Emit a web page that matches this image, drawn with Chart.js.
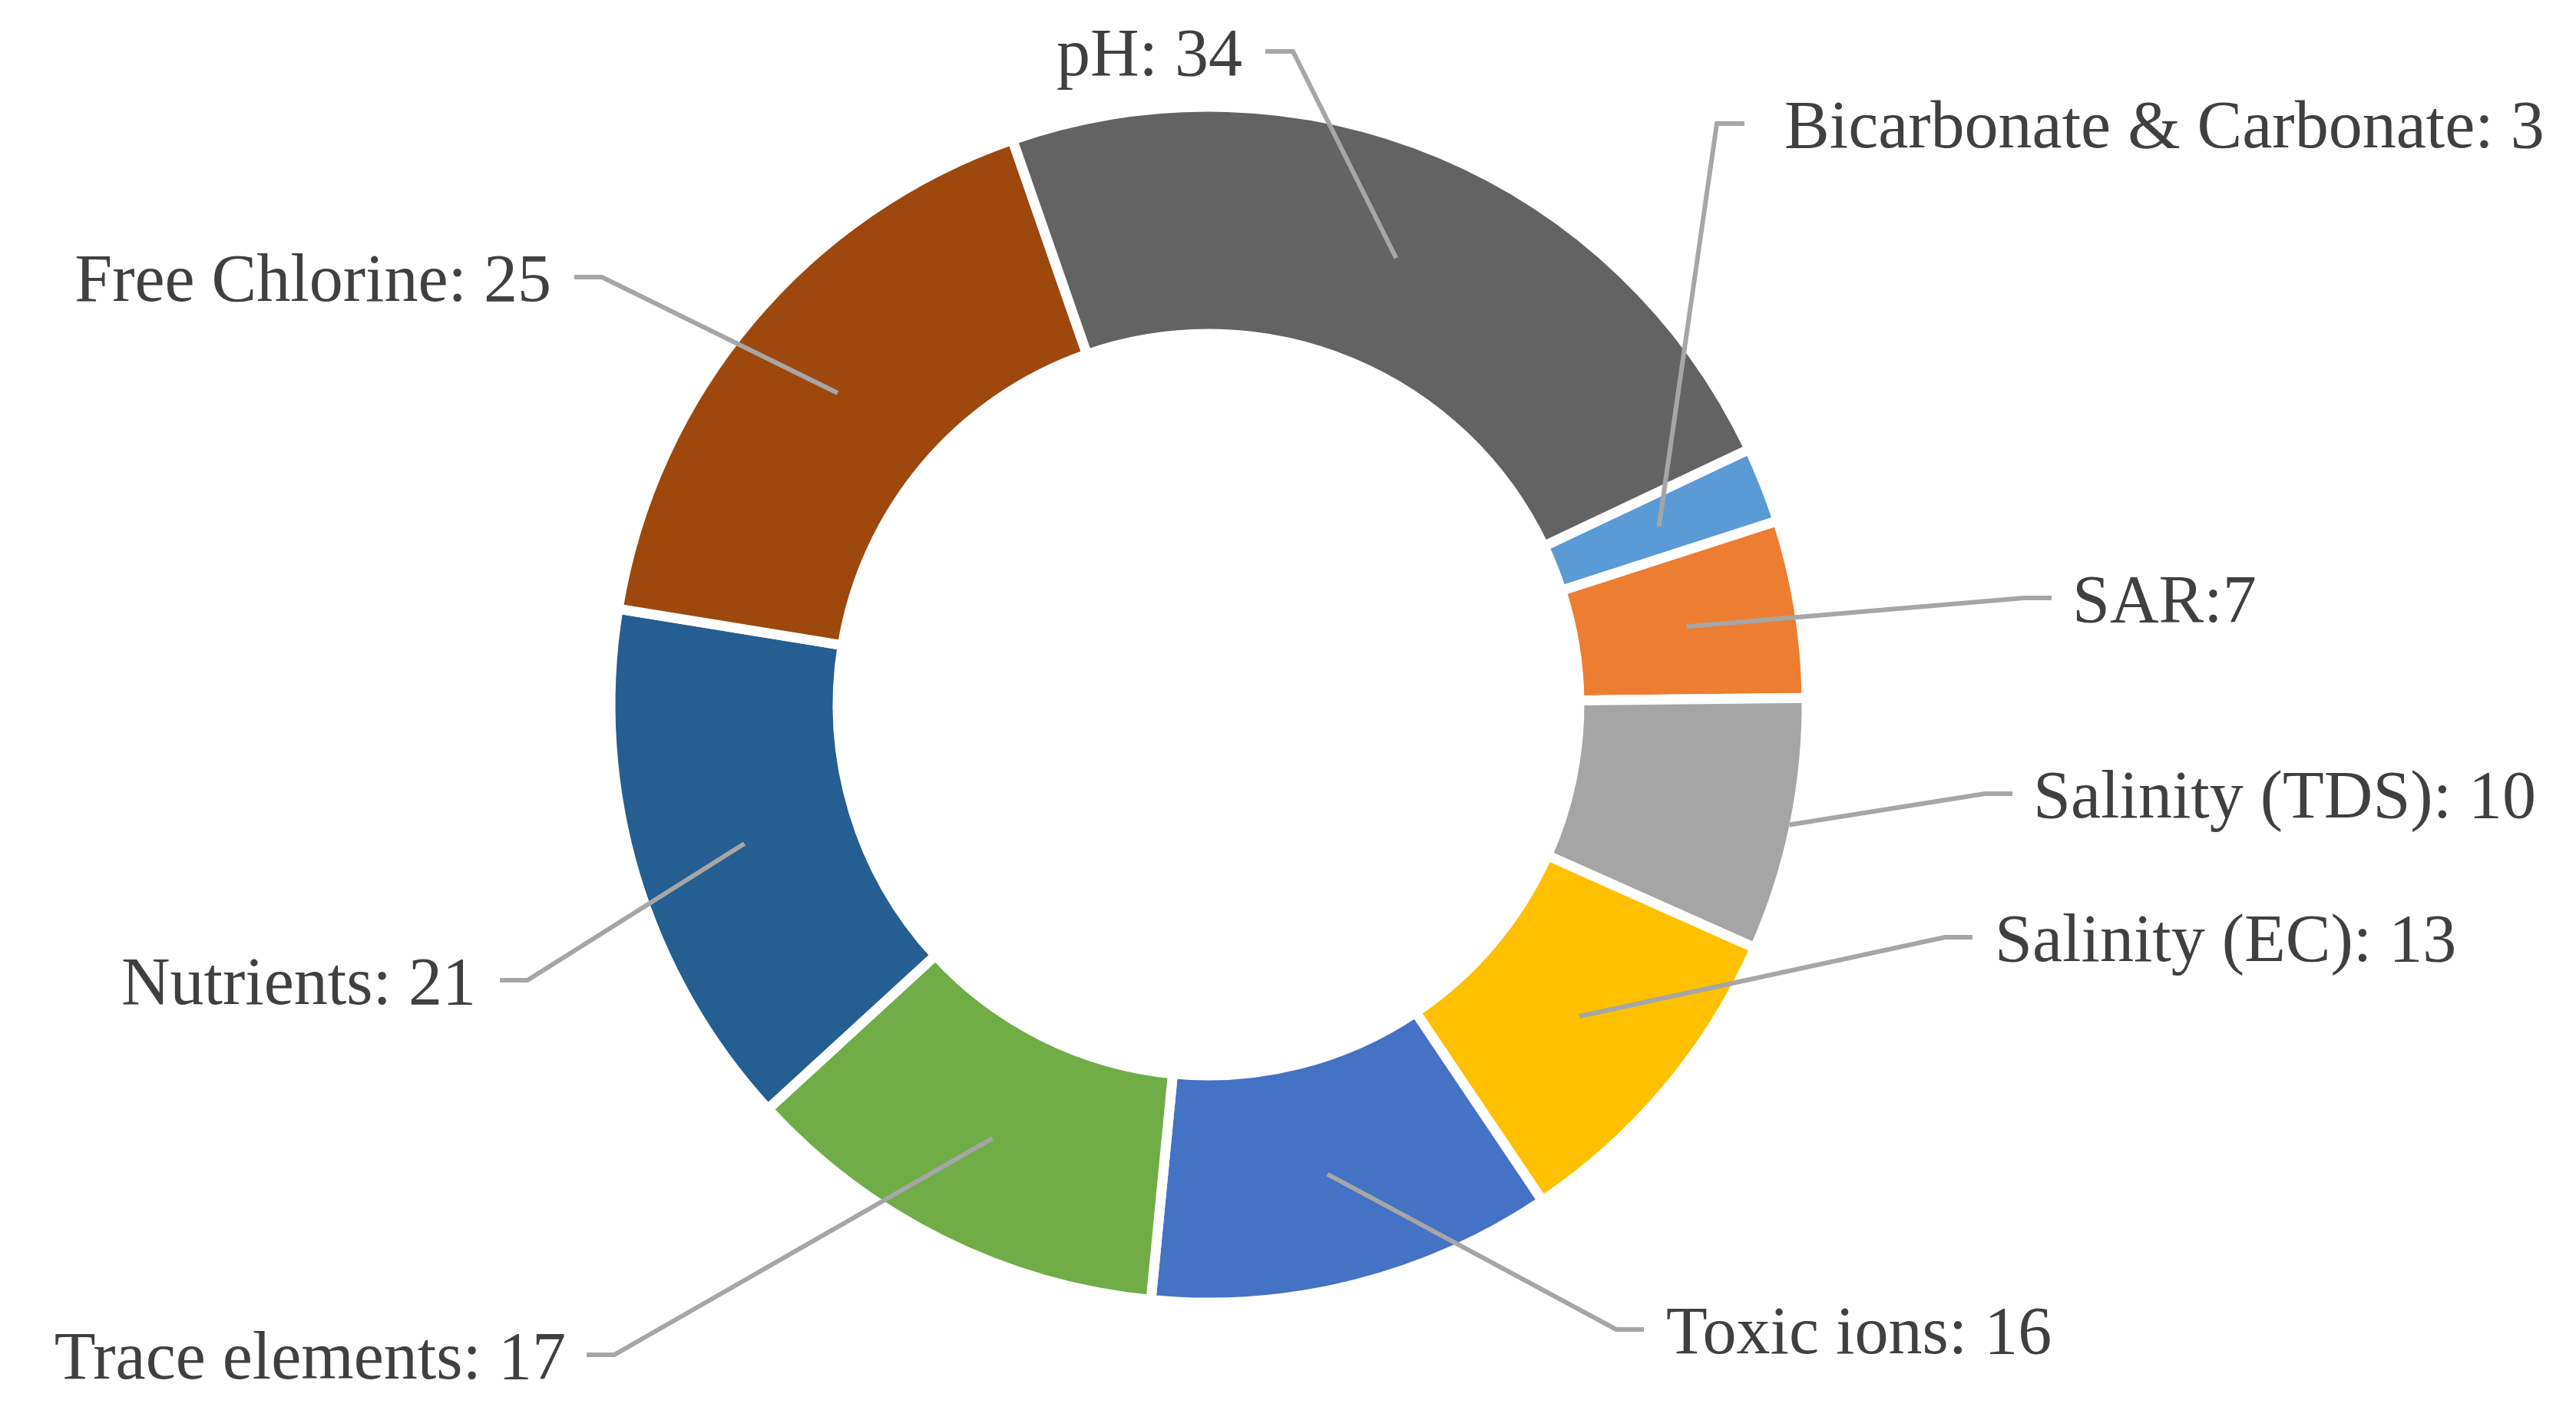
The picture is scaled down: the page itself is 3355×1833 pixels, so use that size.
<!DOCTYPE html>
<html>
<head>
<meta charset="utf-8">
<title>Doughnut</title>
<script src="https://cdn.jsdelivr.net/npm/chart.js@4.4.0/dist/chart.umd.min.js"></script>
<style>
    html, body { margin: 0; padding: 0; background: #ffffff; }
    #wrap { width: 3355px; height: 1833px; }
</style>
</head>
<body>
<div id="wrap">
    <canvas id="doughnut-chart" width="3355" height="1833"></canvas>
</div>
<script>
// Datos
var categorias = ["Bicarbonate & Carbonate", "SAR", "Salinity (TDS)", "Salinity (EC)",
    "Toxic ions", "Trace elements", "Nutrients", "Free Chlorine", "pH"];
var valores = [3, 7, 10, 13, 16, 17, 21, 25, 34];
var separadores = [": ", ":", ": ", ": ", ": ", ": ", ": ", ": ", ": "];

var colores = ["#5B9BD5", "#ED7D31", "#A5A5A5", "#FFC000", "#4472C4",
    "#70AD47", "#255E91", "#9E480E", "#636363"];

var borde = 13;

// Posicion de cada etiqueta: x del borde del texto, linea base, lado, hueco hasta la guia,
// y a que profundidad del anillo llega la guia (0 = interior, 1 = exterior)
var etiquetas = [
    {x: 2324, y: 192, lado: "left", hueco: 52, prof: 0.5},
    {x: 2699, y: 810, lado: "left", hueco: 27, prof: 0.5},
    {x: 2648, y: 1065, lado: "left", hueco: 27, prof: 1.0},
    {x: 2598, y: 1252, lado: "left", hueco: 29, prof: 0.5},
    {x: 2170, y: 1763, lado: "left", hueco: 29, prof: 0.5},
    {x: 737, y: 1796, lado: "right", hueco: 27, prof: 0.5},
    {x: 620, y: 1308, lado: "right", hueco: 31, prof: 0.5},
    {x: 718, y: 392, lado: "right", hueco: 30, prof: 0.5},
    {x: 1618, y: 98, lado: "right", hueco: 30, prof: 0.5}
];

// Etiquetas con lineas guia (estilo Excel)
var guias = {
    id: "guias",
    afterDatasetsDraw: function (chart) {
        var ctx = chart.ctx;
        var arcos = chart.getDatasetMeta(0).data;
        ctx.save();
        arcos.forEach(function (arco, i) {
            var p = arco.getProps(["x", "y", "startAngle", "endAngle", "innerRadius", "outerRadius"], true);
            var et = etiquetas[i];
            var medio = (p.startAngle + p.endAngle) / 2;
            var rIn = p.innerRadius + borde / 2;
            var rOut = p.outerRadius - borde / 2;
            var r = rIn + (rOut - rIn) * et.prof;
            var ax = p.x + Math.cos(medio) * r;
            var ay = p.y + Math.sin(medio) * r;

            var yLinea = et.y - 31;
            var cerca = et.lado == "left" ? et.x - et.hueco : et.x + et.hueco;
            var lejos = et.lado == "left" ? cerca - 36 : cerca + 36;

            ctx.strokeStyle = "#A6A6A6";
            ctx.lineWidth = 6;
            ctx.lineJoin = "miter";
            ctx.beginPath();
            ctx.moveTo(ax, ay);
            ctx.lineTo(lejos, yLinea);
            ctx.lineTo(cerca, yLinea);
            ctx.stroke();

            ctx.fillStyle = "#404040";
            ctx.font = "88px 'Liberation Serif', 'DejaVu Serif', serif";
            ctx.textAlign = et.lado;
            ctx.textBaseline = "alphabetic";
            ctx.fillText(categorias[i] + separadores[i] + valores[i], et.x, et.y);
        });
        ctx.restore();
    }
};

var ctx1 = document.getElementById("doughnut-chart").getContext("2d");
var grafico = new Chart(ctx1, {
    type: "doughnut",
    data: {
        labels: categorias,
        datasets: [{
            data: valores,
            backgroundColor: colores,
            borderColor: "#ffffff",
            borderWidth: borde,
            borderAlign: "center"
        }]
    },
    options: {
        responsive: false,
        animation: false,
        rotation: 64.7,
        radius: 779,
        cutout: "62%",
        layout: {
            padding: {left: 0, right: 207, top: 3, bottom: 0}
        },
        plugins: {
            legend: {display: false},
            tooltip: {enabled: false}
        },
        events: []
    },
    plugins: [guias]
});
</script>
</body>
</html>
